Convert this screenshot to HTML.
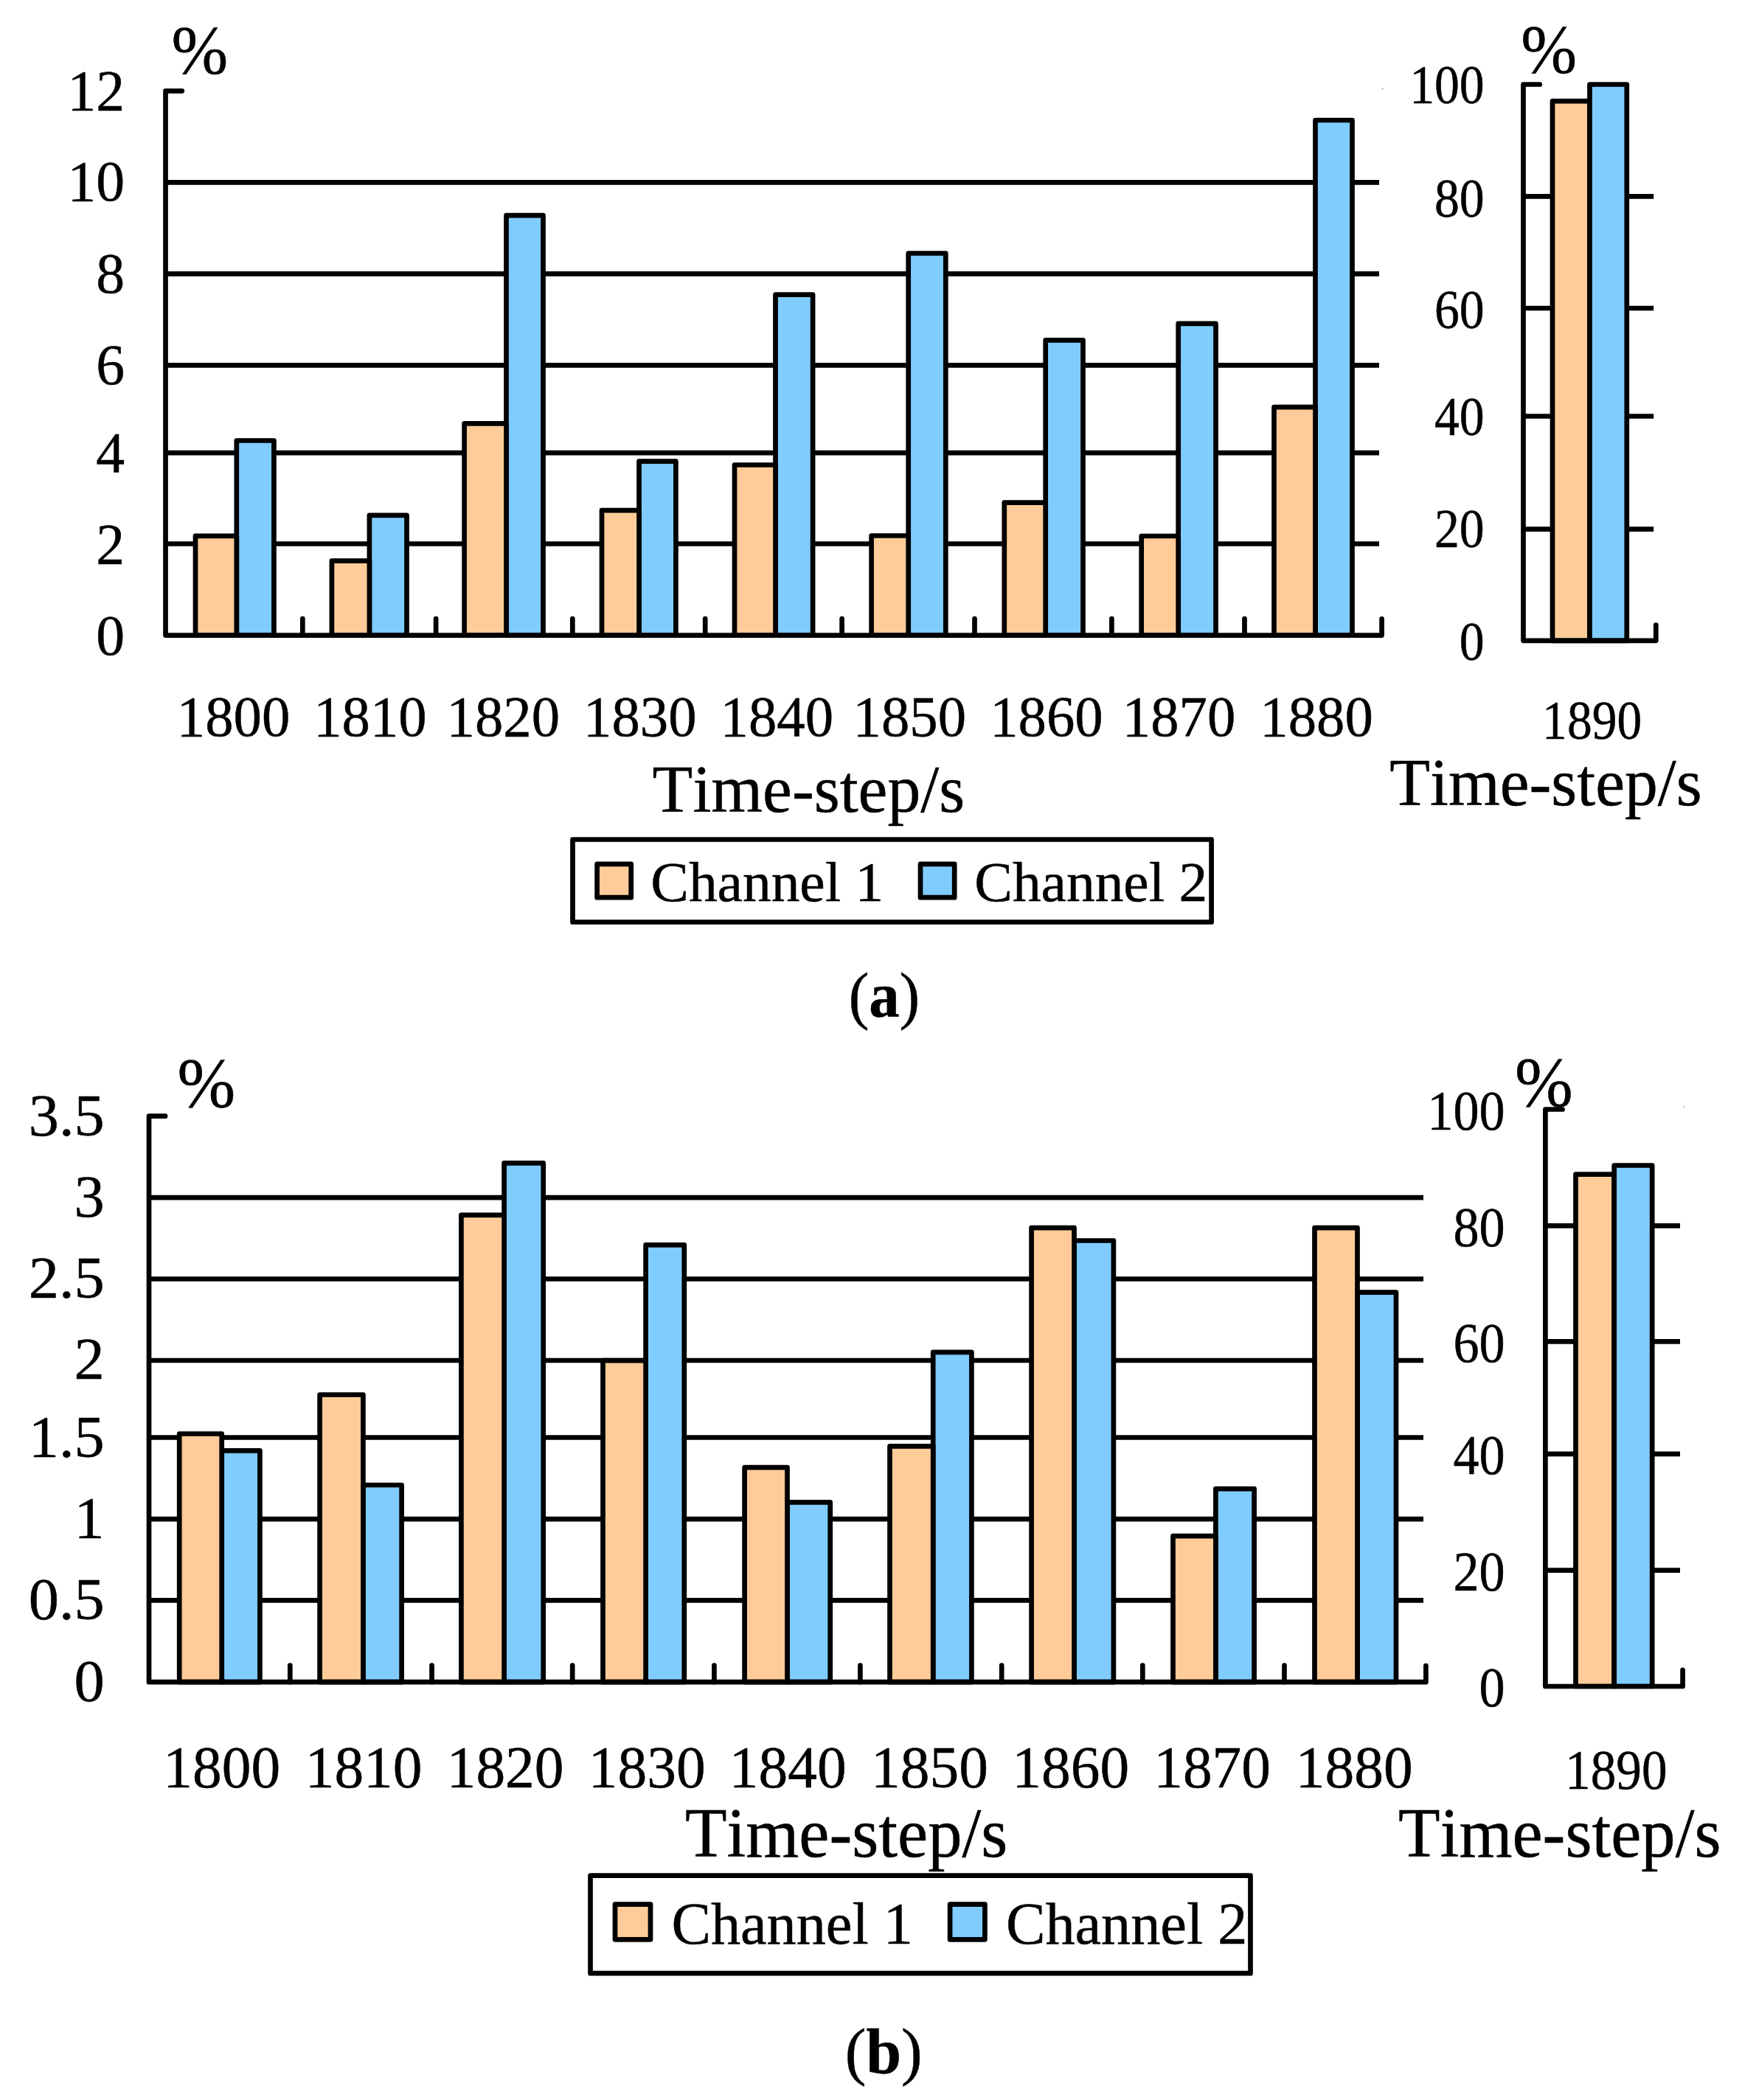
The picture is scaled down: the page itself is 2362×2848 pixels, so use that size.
<!DOCTYPE html>
<html lang="en">
<head>
<meta charset="utf-8">
<title>Channel bar charts</title>
<style>
html,body{margin:0;padding:0;background:#fff;}
svg{display:block;}
text{font-family:"Liberation Serif","Times New Roman",serif;fill:#000;font-kerning:none;stroke:#000;stroke-width:0.5px;}
</style>
</head>
<body>
<svg width="2362" height="2848" viewBox="0 0 2362 2848">
<rect x="0" y="0" width="2362" height="2848" fill="#fff"/>
<line x1="224.5" y1="247.4" x2="1870.0" y2="247.4" stroke="#000" stroke-width="6.7" stroke-linecap="butt"/>
<line x1="224.5" y1="371.4" x2="1870.0" y2="371.4" stroke="#000" stroke-width="6.7" stroke-linecap="butt"/>
<line x1="224.5" y1="495.4" x2="1870.0" y2="495.4" stroke="#000" stroke-width="6.7" stroke-linecap="butt"/>
<line x1="224.5" y1="614.2" x2="1870.0" y2="614.2" stroke="#000" stroke-width="6.7" stroke-linecap="butt"/>
<line x1="224.5" y1="737.5" x2="1870.0" y2="737.5" stroke="#000" stroke-width="6.7" stroke-linecap="butt"/>
<rect x="320.8" y="597.5" width="50.6" height="264.1" fill="#80CCFF" stroke="#000" stroke-width="6.7" stroke-linejoin="round"/>
<rect x="265.0" y="726.9" width="55.8" height="134.7" fill="#FFCC99" stroke="#000" stroke-width="6.7" stroke-linejoin="round"/>
<rect x="500.9" y="698.8" width="50.6" height="162.8" fill="#80CCFF" stroke="#000" stroke-width="6.7" stroke-linejoin="round"/>
<rect x="449.9" y="760.6" width="51.0" height="101.0" fill="#FFCC99" stroke="#000" stroke-width="6.7" stroke-linejoin="round"/>
<rect x="686.5" y="292.1" width="50.0" height="569.5" fill="#80CCFF" stroke="#000" stroke-width="6.7" stroke-linejoin="round"/>
<rect x="629.6" y="574.4" width="56.9" height="287.2" fill="#FFCC99" stroke="#000" stroke-width="6.7" stroke-linejoin="round"/>
<rect x="866.5" y="625.6" width="49.9" height="236.0" fill="#80CCFF" stroke="#000" stroke-width="6.7" stroke-linejoin="round"/>
<rect x="816.0" y="692.2" width="50.5" height="169.4" fill="#FFCC99" stroke="#000" stroke-width="6.7" stroke-linejoin="round"/>
<rect x="1051.5" y="399.6" width="50.6" height="462.0" fill="#80CCFF" stroke="#000" stroke-width="6.7" stroke-linejoin="round"/>
<rect x="996.0" y="630.5" width="55.5" height="231.1" fill="#FFCC99" stroke="#000" stroke-width="6.7" stroke-linejoin="round"/>
<rect x="1231.7" y="343.5" width="50.6" height="518.1" fill="#80CCFF" stroke="#000" stroke-width="6.7" stroke-linejoin="round"/>
<rect x="1181.6" y="726.5" width="50.1" height="135.1" fill="#FFCC99" stroke="#000" stroke-width="6.7" stroke-linejoin="round"/>
<rect x="1417.7" y="461.3" width="50.8" height="400.3" fill="#80CCFF" stroke="#000" stroke-width="6.7" stroke-linejoin="round"/>
<rect x="1361.8" y="681.7" width="55.9" height="179.9" fill="#FFCC99" stroke="#000" stroke-width="6.7" stroke-linejoin="round"/>
<rect x="1597.7" y="438.9" width="50.8" height="422.7" fill="#80CCFF" stroke="#000" stroke-width="6.7" stroke-linejoin="round"/>
<rect x="1547.7" y="727.0" width="50.0" height="134.6" fill="#FFCC99" stroke="#000" stroke-width="6.7" stroke-linejoin="round"/>
<rect x="1783.5" y="163.0" width="50.0" height="698.6" fill="#80CCFF" stroke="#000" stroke-width="6.7" stroke-linejoin="round"/>
<rect x="1727.5" y="552.2" width="56.0" height="309.4" fill="#FFCC99" stroke="#000" stroke-width="6.7" stroke-linejoin="round"/>
<line x1="410.3" y1="861.6" x2="410.3" y2="839.1" stroke="#000" stroke-width="6.7" stroke-linecap="round"/>
<line x1="591.1" y1="861.6" x2="591.1" y2="839.1" stroke="#000" stroke-width="6.7" stroke-linecap="round"/>
<line x1="776.3" y1="861.6" x2="776.3" y2="839.1" stroke="#000" stroke-width="6.7" stroke-linecap="round"/>
<line x1="956.2" y1="861.6" x2="956.2" y2="839.1" stroke="#000" stroke-width="6.7" stroke-linecap="round"/>
<line x1="1141.6" y1="861.6" x2="1141.6" y2="839.1" stroke="#000" stroke-width="6.7" stroke-linecap="round"/>
<line x1="1321.5" y1="861.6" x2="1321.5" y2="839.1" stroke="#000" stroke-width="6.7" stroke-linecap="round"/>
<line x1="1507.4" y1="861.6" x2="1507.4" y2="839.1" stroke="#000" stroke-width="6.7" stroke-linecap="round"/>
<line x1="1687.5" y1="861.6" x2="1687.5" y2="839.1" stroke="#000" stroke-width="6.7" stroke-linecap="round"/>
<polyline points="246.8,123.3 224.5,123.3 224.5,861.6 1873.6,861.6 1873.6,839.4" fill="none" stroke="#000" stroke-width="6.7" stroke-linecap="round" stroke-linejoin="round"/>
<line x1="2065.5" y1="266.4" x2="2242.2" y2="266.4" stroke="#000" stroke-width="6.7" stroke-linecap="butt"/>
<line x1="2065.5" y1="418.0" x2="2242.2" y2="418.0" stroke="#000" stroke-width="6.7" stroke-linecap="butt"/>
<line x1="2065.5" y1="564.5" x2="2242.2" y2="564.5" stroke="#000" stroke-width="6.7" stroke-linecap="butt"/>
<line x1="2065.5" y1="717.6" x2="2242.2" y2="717.6" stroke="#000" stroke-width="6.7" stroke-linecap="butt"/>
<rect x="2105.0" y="137.1" width="50.5" height="731.7" fill="#FFCC99" stroke="#000" stroke-width="6.7" stroke-linejoin="round"/>
<rect x="2155.5" y="114.5" width="50.3" height="754.3" fill="#80CCFF" stroke="#000" stroke-width="6.7" stroke-linejoin="round"/>
<polyline points="2087.8,114.5 2065.5,114.5 2065.5,868.8 2245.3,868.8 2245.3,847.7" fill="none" stroke="#000" stroke-width="6.7" stroke-linecap="round" stroke-linejoin="round"/>
<text transform="translate(169.20,149.30) scale(0.9900,1.0000)" font-size="78.5" text-anchor="end">12</text>
<text transform="translate(169.20,272.10) scale(0.9900,1.0000)" font-size="78.5" text-anchor="end">10</text>
<text transform="translate(169.20,397.40) scale(0.9900,1.0000)" font-size="78.5" text-anchor="end">8</text>
<text transform="translate(169.20,520.70) scale(0.9900,1.0000)" font-size="78.5" text-anchor="end">6</text>
<text transform="translate(169.20,639.90) scale(0.9900,1.0000)" font-size="78.5" text-anchor="end">4</text>
<text transform="translate(169.20,764.20) scale(0.9900,1.0000)" font-size="78.5" text-anchor="end">2</text>
<text transform="translate(169.20,888.10) scale(0.9900,1.0000)" font-size="78.5" text-anchor="end">0</text>
<text transform="translate(239.79,998.40) scale(0.9720,1.0000)" font-size="79" text-anchor="start">1800</text>
<text transform="translate(425.19,998.40) scale(0.9720,1.0000)" font-size="79" text-anchor="start">1810</text>
<text transform="translate(605.49,998.40) scale(0.9720,1.0000)" font-size="79" text-anchor="start">1820</text>
<text transform="translate(790.99,998.40) scale(0.9720,1.0000)" font-size="79" text-anchor="start">1830</text>
<text transform="translate(976.59,998.40) scale(0.9720,1.0000)" font-size="79" text-anchor="start">1840</text>
<text transform="translate(1156.59,998.40) scale(0.9720,1.0000)" font-size="79" text-anchor="start">1850</text>
<text transform="translate(1342.19,998.40) scale(0.9720,1.0000)" font-size="79" text-anchor="start">1860</text>
<text transform="translate(1521.79,998.40) scale(0.9720,1.0000)" font-size="79" text-anchor="start">1870</text>
<text transform="translate(1708.29,998.40) scale(0.9720,1.0000)" font-size="79" text-anchor="start">1880</text>
<text transform="translate(232.40,99.20) scale(0.9900,1.0000)" font-size="93" text-anchor="start">%</text>
<text transform="translate(2062.20,97.70) scale(0.9850,1.0000)" font-size="92.5" text-anchor="start">%</text>
<text transform="translate(2012.70,139.70) scale(0.9150,1.0000)" font-size="74" text-anchor="end">100</text>
<text transform="translate(2012.70,293.50) scale(0.9150,1.0000)" font-size="74" text-anchor="end">80</text>
<text transform="translate(2012.70,445.00) scale(0.9150,1.0000)" font-size="74" text-anchor="end">60</text>
<text transform="translate(2012.70,590.20) scale(0.9150,1.0000)" font-size="74" text-anchor="end">40</text>
<text transform="translate(2012.70,742.10) scale(0.9150,1.0000)" font-size="74" text-anchor="end">20</text>
<text transform="translate(2012.70,894.50) scale(0.9150,1.0000)" font-size="74" text-anchor="end">0</text>
<text transform="translate(2091.12,1001.90) scale(0.9130,1.0000)" font-size="74" text-anchor="start">1890</text>
<text transform="translate(1884.21,1091.60) scale(0.9770,1.0000)" font-size="91.8" text-anchor="start">Time-step/s</text>
<text transform="translate(884.61,1100.90) scale(0.9770,1.0000)" font-size="91.8" text-anchor="start">Time-step/s</text>
<rect x="776.5" y="1138.5" width="866.1" height="112.0" fill="none" stroke="#000" stroke-width="6.7" stroke-linejoin="round"/>
<rect x="809.6" y="1171.8" width="46.1" height="45.4" fill="#FFCC99" stroke="#000" stroke-width="6.7" stroke-linejoin="round"/>
<rect x="1248.0" y="1171.8" width="46.2" height="45.4" fill="#80CCFF" stroke="#000" stroke-width="6.7" stroke-linejoin="round"/>
<text transform="translate(882.30,1222.00) scale(1.0050,1.0000)" font-size="77" text-anchor="start">Channel 1</text>
<text transform="translate(1321.30,1222.00) scale(1.0050,1.0000)" font-size="77" text-anchor="start">Channel 2</text>
<text transform="translate(1150.68,1378.8) scale(0.965,1)" font-size="85.7">(<tspan font-weight="bold">a</tspan>)</text>
<circle cx="1874.6" cy="120.3" r="0.8" fill="#555"/>
<circle cx="2283.4" cy="1501" r="0.8" fill="#555"/>
<line x1="202.0" y1="1624.1" x2="1930.0" y2="1624.1" stroke="#000" stroke-width="6.7" stroke-linecap="butt"/>
<line x1="202.0" y1="1734.5" x2="1930.0" y2="1734.5" stroke="#000" stroke-width="6.7" stroke-linecap="butt"/>
<line x1="202.0" y1="1845.0" x2="1930.0" y2="1845.0" stroke="#000" stroke-width="6.7" stroke-linecap="butt"/>
<line x1="202.0" y1="1949.5" x2="1930.0" y2="1949.5" stroke="#000" stroke-width="6.7" stroke-linecap="butt"/>
<line x1="202.0" y1="2060.1" x2="1930.0" y2="2060.1" stroke="#000" stroke-width="6.7" stroke-linecap="butt"/>
<line x1="202.0" y1="2170.4" x2="1930.0" y2="2170.4" stroke="#000" stroke-width="6.7" stroke-linecap="butt"/>
<rect x="300.7" y="1967.4" width="51.7" height="313.8" fill="#80CCFF" stroke="#000" stroke-width="6.7" stroke-linejoin="round"/>
<rect x="243.2" y="1944.5" width="57.5" height="336.7" fill="#FFCC99" stroke="#000" stroke-width="6.7" stroke-linejoin="round"/>
<rect x="492.4" y="2014.0" width="52.2" height="267.2" fill="#80CCFF" stroke="#000" stroke-width="6.7" stroke-linejoin="round"/>
<rect x="433.6" y="1891.5" width="58.8" height="389.7" fill="#FFCC99" stroke="#000" stroke-width="6.7" stroke-linejoin="round"/>
<rect x="683.6" y="1577.3" width="53.1" height="703.9" fill="#80CCFF" stroke="#000" stroke-width="6.7" stroke-linejoin="round"/>
<rect x="625.4" y="1647.8" width="58.2" height="633.4" fill="#FFCC99" stroke="#000" stroke-width="6.7" stroke-linejoin="round"/>
<rect x="875.6" y="1688.4" width="52.2" height="592.8" fill="#80CCFF" stroke="#000" stroke-width="6.7" stroke-linejoin="round"/>
<rect x="817.5" y="1845.1" width="58.1" height="436.1" fill="#FFCC99" stroke="#000" stroke-width="6.7" stroke-linejoin="round"/>
<rect x="1067.5" y="2037.4" width="58.2" height="243.8" fill="#80CCFF" stroke="#000" stroke-width="6.7" stroke-linejoin="round"/>
<rect x="1009.6" y="1990.2" width="57.9" height="291.0" fill="#FFCC99" stroke="#000" stroke-width="6.7" stroke-linejoin="round"/>
<rect x="1265.2" y="1833.9" width="52.2" height="447.3" fill="#80CCFF" stroke="#000" stroke-width="6.7" stroke-linejoin="round"/>
<rect x="1206.5" y="1961.3" width="58.7" height="319.9" fill="#FFCC99" stroke="#000" stroke-width="6.7" stroke-linejoin="round"/>
<rect x="1456.5" y="1682.5" width="53.4" height="598.7" fill="#80CCFF" stroke="#000" stroke-width="6.7" stroke-linejoin="round"/>
<rect x="1398.6" y="1665.1" width="57.9" height="616.1" fill="#FFCC99" stroke="#000" stroke-width="6.7" stroke-linejoin="round"/>
<rect x="1648.4" y="2019.1" width="52.2" height="262.1" fill="#80CCFF" stroke="#000" stroke-width="6.7" stroke-linejoin="round"/>
<rect x="1590.5" y="2083.2" width="57.9" height="198.0" fill="#FFCC99" stroke="#000" stroke-width="6.7" stroke-linejoin="round"/>
<rect x="1840.5" y="1752.7" width="52.5" height="528.5" fill="#80CCFF" stroke="#000" stroke-width="6.7" stroke-linejoin="round"/>
<rect x="1782.5" y="1665.2" width="58.0" height="616.0" fill="#FFCC99" stroke="#000" stroke-width="6.7" stroke-linejoin="round"/>
<line x1="393.3" y1="2281.2" x2="393.3" y2="2258.7" stroke="#000" stroke-width="6.7" stroke-linecap="round"/>
<line x1="585.5" y1="2281.2" x2="585.5" y2="2258.7" stroke="#000" stroke-width="6.7" stroke-linecap="round"/>
<line x1="776.2" y1="2281.2" x2="776.2" y2="2258.7" stroke="#000" stroke-width="6.7" stroke-linecap="round"/>
<line x1="968.4" y1="2281.2" x2="968.4" y2="2258.7" stroke="#000" stroke-width="6.7" stroke-linecap="round"/>
<line x1="1166.4" y1="2281.2" x2="1166.4" y2="2258.7" stroke="#000" stroke-width="6.7" stroke-linecap="round"/>
<line x1="1358.2" y1="2281.2" x2="1358.2" y2="2258.7" stroke="#000" stroke-width="6.7" stroke-linecap="round"/>
<line x1="1549.3" y1="2281.2" x2="1549.3" y2="2258.7" stroke="#000" stroke-width="6.7" stroke-linecap="round"/>
<line x1="1741.5" y1="2281.2" x2="1741.5" y2="2258.7" stroke="#000" stroke-width="6.7" stroke-linecap="round"/>
<polyline points="224.1,1513.7 202.0,1513.7 202.0,2281.2 1933.4,2281.2 1933.4,2259.0" fill="none" stroke="#000" stroke-width="6.7" stroke-linecap="round" stroke-linejoin="round"/>
<line x1="2095.4" y1="1662.3" x2="2278.0" y2="1662.3" stroke="#000" stroke-width="6.7" stroke-linecap="butt"/>
<line x1="2095.4" y1="1819.3" x2="2278.0" y2="1819.3" stroke="#000" stroke-width="6.7" stroke-linecap="butt"/>
<line x1="2095.4" y1="1971.8" x2="2278.0" y2="1971.8" stroke="#000" stroke-width="6.7" stroke-linecap="butt"/>
<line x1="2095.4" y1="2129.6" x2="2278.0" y2="2129.6" stroke="#000" stroke-width="6.7" stroke-linecap="butt"/>
<rect x="2136.5" y="1592.6" width="52.2" height="694.4" fill="#FFCC99" stroke="#000" stroke-width="6.7" stroke-linejoin="round"/>
<rect x="2188.7" y="1580.5" width="51.5" height="706.5" fill="#80CCFF" stroke="#000" stroke-width="6.7" stroke-linejoin="round"/>
<polyline points="2118.6,1504.5 2095.4,1504.5 2095.4,2287.0 2281.6,2287.0 2281.6,2264.9" fill="none" stroke="#000" stroke-width="6.7" stroke-linecap="round" stroke-linejoin="round"/>
<text transform="translate(141.80,1539.70) scale(1.0300,1.0000)" font-size="80" text-anchor="end">3.5</text>
<text transform="translate(141.80,1649.80) scale(1.0300,1.0000)" font-size="80" text-anchor="end">3</text>
<text transform="translate(141.80,1759.80) scale(1.0300,1.0000)" font-size="80" text-anchor="end">2.5</text>
<text transform="translate(141.80,1870.40) scale(1.0300,1.0000)" font-size="80" text-anchor="end">2</text>
<text transform="translate(141.80,1976.40) scale(1.0300,1.0000)" font-size="80" text-anchor="end">1.5</text>
<text transform="translate(141.80,2086.20) scale(1.0300,1.0000)" font-size="80" text-anchor="end">1</text>
<text transform="translate(141.80,2196.10) scale(1.0300,1.0000)" font-size="80" text-anchor="end">0.5</text>
<text transform="translate(141.80,2306.60) scale(1.0300,1.0000)" font-size="80" text-anchor="end">0</text>
<text transform="translate(221.37,2423.50) scale(0.9930,1.0000)" font-size="80" text-anchor="start">1800</text>
<text transform="translate(413.67,2423.50) scale(0.9930,1.0000)" font-size="80" text-anchor="start">1810</text>
<text transform="translate(605.67,2423.50) scale(0.9930,1.0000)" font-size="80" text-anchor="start">1820</text>
<text transform="translate(797.77,2423.50) scale(0.9930,1.0000)" font-size="80" text-anchor="start">1830</text>
<text transform="translate(988.77,2423.50) scale(0.9930,1.0000)" font-size="80" text-anchor="start">1840</text>
<text transform="translate(1180.97,2423.50) scale(0.9930,1.0000)" font-size="80" text-anchor="start">1850</text>
<text transform="translate(1372.27,2423.50) scale(0.9930,1.0000)" font-size="80" text-anchor="start">1860</text>
<text transform="translate(1564.17,2423.50) scale(0.9930,1.0000)" font-size="80" text-anchor="start">1870</text>
<text transform="translate(1756.87,2423.50) scale(0.9930,1.0000)" font-size="80" text-anchor="start">1880</text>
<text transform="translate(240.59,1501.16) scale(0.9850,1.0000)" font-size="96" text-anchor="start">%</text>
<text transform="translate(2053.89,1500.46) scale(0.9850,1.0000)" font-size="96" text-anchor="start">%</text>
<text transform="translate(2040.70,1532.00) scale(0.9190,1.0000)" font-size="76.4" text-anchor="end">100</text>
<text transform="translate(2040.70,1689.70) scale(0.9190,1.0000)" font-size="76.4" text-anchor="end">80</text>
<text transform="translate(2040.70,1847.00) scale(0.9190,1.0000)" font-size="76.4" text-anchor="end">60</text>
<text transform="translate(2040.70,1999.30) scale(0.9190,1.0000)" font-size="76.4" text-anchor="end">40</text>
<text transform="translate(2040.70,2156.60) scale(0.9190,1.0000)" font-size="76.4" text-anchor="end">20</text>
<text transform="translate(2040.70,2314.20) scale(0.9190,1.0000)" font-size="76.4" text-anchor="end">0</text>
<text transform="translate(2122.06,2426.30) scale(0.9060,1.0000)" font-size="76.5" text-anchor="start">1890</text>
<text transform="translate(1896.05,2518.30) scale(0.9775,1.0000)" font-size="94.8" text-anchor="start">Time-step/s</text>
<text transform="translate(928.95,2518.00) scale(0.9775,1.0000)" font-size="94.8" text-anchor="start">Time-step/s</text>
<rect x="800.5" y="2543.6" width="895.0" height="132.6" fill="none" stroke="#000" stroke-width="6.7" stroke-linejoin="round"/>
<rect x="834.0" y="2582.7" width="48.0" height="47.6" fill="#FFCC99" stroke="#000" stroke-width="6.7" stroke-linejoin="round"/>
<rect x="1288.1" y="2582.7" width="47.3" height="47.6" fill="#80CCFF" stroke="#000" stroke-width="6.7" stroke-linejoin="round"/>
<text transform="translate(910.39,2635.80) scale(1.0090,1.0000)" font-size="79.5" text-anchor="start">Channel 1</text>
<text transform="translate(1363.89,2635.80) scale(1.0090,1.0000)" font-size="79.5" text-anchor="start">Channel 2</text>
<text transform="translate(1145.63,2811.4) scale(1.0,1)" font-size="86">(<tspan font-weight="bold">b</tspan>)</text>
</svg>
</body>
</html>
